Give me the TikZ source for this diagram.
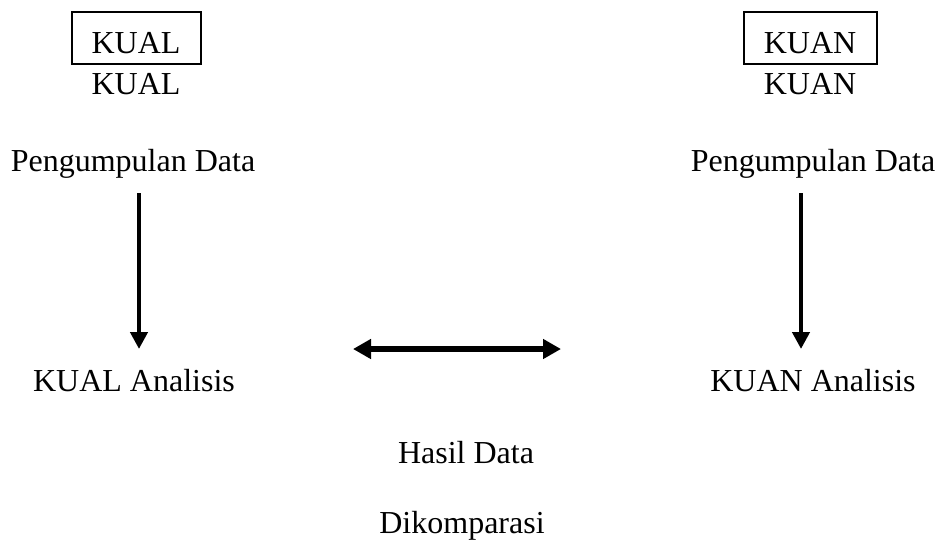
\documentclass[tikz,border=0pt]{standalone}
\usepackage{fontspec}
\setmainfont{Liberation Serif}
\usetikzlibrary{arrows.meta}
\begin{document}
\begin{tikzpicture}[x=1pt,y=-1pt,
  lbl/.style={anchor=base,inner sep=0pt,font=\fontsize{32}{38}\selectfont},
  boxed/.style={draw,line width=1.1pt,inner sep=0pt},
  vline/.style={line width=4.6pt,-{Triangle[length=17pt,width=17pt]}},
  hline/.style={line width=5.5pt,{Triangle[length=18pt,width=19pt]}-{Triangle[length=18pt,width=19pt]}}]
\useasboundingbox (0,0) rectangle (939,544);
% left column
\node[boxed,minimum width=129pt,minimum height=52pt] (bxl) at (136.5,38) {};
\node[lbl] (kualA) at (136,53) {KUAL};
\node[lbl] (kualB) at (136,94) {KUAL};
\node[lbl] (pdl) at (133,171) {Pengumpulan Data};
\node[lbl] (kan) at (134,391) {KUAL Analisis};
% right column
\node[boxed,minimum width=133pt,minimum height=52pt] (bxr) at (810.5,38) {};
\node[lbl] (kuanA) at (810,53) {KUAN};
\node[lbl] (kuanB) at (810,94) {KUAN};
\node[lbl] (pdr) at (813,171) {Pengumpulan Data};
\node[lbl] (kuan) at (813,391) {KUAN Analisis};
% middle
\node[lbl] (hasil) at (466,463) {Hasil Data};
\node[lbl] (komp) at (462,533) {Dikomparasi};
% arrows
\coordinate (lt) at (139,193);
\coordinate (lb) at (139,349);
\coordinate (rt) at (801,193);
\coordinate (rb) at (801,349);
\coordinate (hl) at (353,349);
\coordinate (hr) at (561,349);
\draw[vline] (lt) -- (lb);
\draw[vline] (rt) -- (rb);
\draw[hline] (hl) -- (hr);
\end{tikzpicture}
\end{document}
